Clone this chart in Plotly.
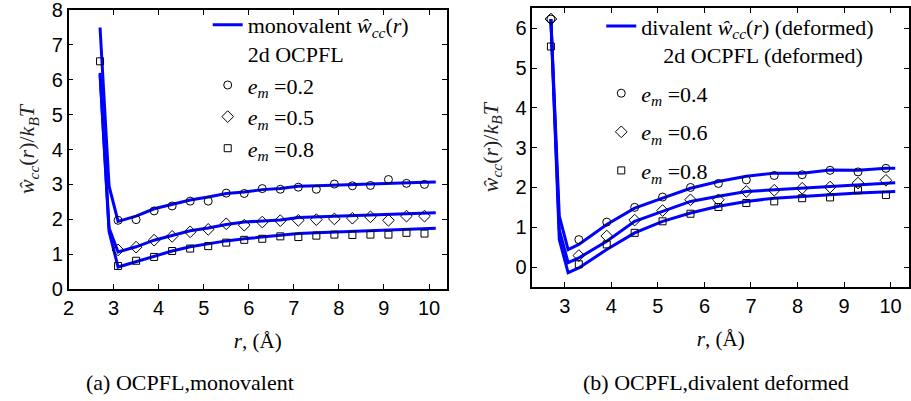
import plotly.graph_objects as go

# ---------------- data: (a) monovalent ----------------
a_line_x = [2.7, 2.9, 3.1, 3.5, 3.9, 4.3, 4.7, 5.1, 5.5, 5.9, 6.3, 6.7, 7.1, 7.5, 7.9, 8.3, 8.7, 9.1, 9.5, 9.9, 10.15]
a_line_02 = [7.5, 2.95, 1.94, 2.09, 2.30, 2.43, 2.55, 2.64, 2.74, 2.78, 2.85, 2.88, 2.95, 2.96, 2.98, 3.00, 3.01, 3.02, 3.05, 3.06, 3.07]
a_line_05 = [6.2, 1.75, 1.06, 1.21, 1.40, 1.54, 1.67, 1.75, 1.85, 1.92, 1.95, 1.98, 2.05, 2.07, 2.09, 2.11, 2.13, 2.15, 2.17, 2.18, 2.19]
a_line_08 = [6.15, 1.65, 0.63, 0.78, 0.95, 1.09, 1.21, 1.30, 1.38, 1.44, 1.49, 1.54, 1.59, 1.61, 1.63, 1.65, 1.67, 1.68, 1.70, 1.72, 1.74]

a_pts_x = [3.1, 3.5, 3.9, 4.3, 4.7, 5.1, 5.5, 5.9, 6.3, 6.7, 7.1, 7.5, 7.9, 8.3, 8.7, 9.1, 9.5, 9.9]
a_circ = [1.97, 1.99, 2.24, 2.38, 2.52, 2.52, 2.75, 2.74, 2.88, 2.86, 2.92, 2.86, 3.01, 2.96, 2.97, 3.14, 3.03, 3.00]
a_diam = [1.12, 1.20, 1.40, 1.51, 1.64, 1.71, 1.87, 1.83, 1.92, 1.96, 1.97, 1.99, 2.01, 2.03, 2.07, 1.97, 2.09, 2.09]
a_sq_x = [2.7] + a_pts_x
a_sq = [6.53, 0.66, 0.81, 0.92, 1.09, 1.16, 1.23, 1.33, 1.41, 1.44, 1.51, 1.49, 1.53, 1.56, 1.55, 1.56, 1.56, 1.61, 1.59]

# ---------------- data: (b) divalent deformed ----------------
b_line_x = [2.7, 2.88, 3.07, 3.3, 3.9, 4.5, 5.1, 5.7, 6.3, 6.9, 7.5, 8.1, 8.7, 9.3, 9.9, 10.1]
b_line_04 = [6.23, 1.28, 0.44, 0.57, 1.07, 1.48, 1.73, 1.98, 2.15, 2.28, 2.36, 2.36, 2.44, 2.43, 2.48, 2.48]
b_line_06 = [6.23, 0.94, 0.11, 0.23, 0.65, 1.15, 1.40, 1.65, 1.78, 1.90, 1.94, 1.98, 2.03, 2.07, 2.11, 2.12]
b_line_08 = [6.20, 0.69, -0.14, -0.02, 0.44, 0.86, 1.15, 1.36, 1.53, 1.65, 1.73, 1.78, 1.82, 1.86, 1.88, 1.90]

b_pts_x = [2.7, 3.3, 3.9, 4.5, 5.1, 5.7, 6.3, 6.9, 7.5, 8.1, 8.7, 9.3, 9.9]
b_circ = [6.23, 0.69, 1.13, 1.50, 1.76, 2.00, 2.10, 2.19, 2.30, 2.32, 2.43, 2.39, 2.48]
b_diam = [6.23, 0.29, 0.78, 1.18, 1.42, 1.69, 1.69, 1.90, 1.93, 1.98, 2.01, 2.11, 2.18]
b_sq = [5.54, 0.07, 0.57, 0.86, 1.15, 1.34, 1.51, 1.61, 1.65, 1.73, 1.75, 1.93, 1.81]

x_ticks_a = [2, 3, 4, 5, 6, 7, 8, 9, 10]
y_ticks_a = [0, 1, 2, 3, 4, 5, 6, 7, 8]
x_ticks_b = [3, 4, 5, 6, 7, 8, 9, 10]
y_ticks_b = [0, 1, 2, 3, 4, 5, 6]

BLUE = "rgb(0,0,255)"
SERIF = "Liberation Serif"
SANS = "Liberation Sans"
W = "<i>ŵ</i><sub><i>cc</i></sub>(<i>r</i>)"
EM = "<i>e</i><sub><i>m</i></sub> ="

fig = go.Figure()

def add_lines(xs, ys_list, xa, ya, name, leg):
    for i, ys in enumerate(ys_list):
        fig.add_trace(go.Scatter(
            x=xs, y=ys, mode="lines", xaxis=xa, yaxis=ya,
            line=dict(color=BLUE, width=3),
            name=name, showlegend=(i == 0), legend=leg, legendgroup="g0"))

def add_marks(xs, ys, sym, size, name, xa, ya, leg, grp):
    fig.add_trace(go.Scatter(
        x=xs, y=ys, mode="markers", xaxis=xa, yaxis=ya,
        marker=dict(symbol=sym, size=size, color="black", line=dict(color="black", width=1)),
        name=name, legend=leg, legendgroup=grp))

add_lines(a_line_x, [a_line_02, a_line_05, a_line_08], "x", "y",
          "monovalent " + W + "<br>2d OCPFL", "legend")
add_marks(a_pts_x, a_circ, "circle-open", 8, EM + "0.2", "x", "y", "legend", "g1")
add_marks(a_pts_x, a_diam, "diamond-open", 9, EM + "0.5", "x", "y", "legend", "g2")
add_marks(a_sq_x, a_sq, "square-open", 7, EM + "0.8", "x", "y", "legend", "g3")

add_lines(b_line_x, [b_line_04, b_line_06, b_line_08], "x2", "y2",
          "divalent " + W + " (deformed)<br>&nbsp;&nbsp;&nbsp;&nbsp;2d OCPFL (deformed)", "legend2")
add_marks(b_pts_x, b_circ, "circle-open", 8, EM + "0.4", "x2", "y2", "legend2", "g1")
add_marks(b_pts_x, b_diam, "diamond-open", 9, EM + "0.6", "x2", "y2", "legend2", "g2")
add_marks(b_pts_x, b_sq, "square-open", 7, EM + "0.8", "x2", "y2", "legend2", "g3")

axis_common = dict(showline=True, linecolor="black", linewidth=1.5, mirror="ticks",
                   ticks="inside", ticklen=5, tickcolor="black", tickwidth=1,
                   showgrid=False, zeroline=False, automargin=False,
                   ticklabeloverflow="allow",
                   tickfont=dict(family=SANS, size=20, color="black"))

ytitle = dict(text="<i>ŵ</i><sub><i>cc</i></sub>(<i>r</i>)/<i>k</i><sub><i>B</i></sub><i>T</i>",
              font=dict(family=SERIF, size=22, color="#222"), standoff=11)
xtitle = dict(text="<i>r</i>, (Å)", font=dict(family=SERIF, size=21, color="black"), standoff=16)

fig.update_layout(
    width=911, height=401, autosize=False,
    margin=dict(l=0, r=0, t=0, b=0, autoexpand=False),
    paper_bgcolor="white", plot_bgcolor="white",
    xaxis=dict(domain=[0.0752, 0.4907], range=[2, 10.4], tickvals=x_ticks_a, title=xtitle, **axis_common),
    yaxis=dict(domain=[0.2793, 0.975], range=[0, 8.001], tickvals=y_ticks_a, title=ytitle, **axis_common),
    xaxis2=dict(domain=[0.5843, 0.998], range=[2.3, 10.4], tickvals=x_ticks_b, anchor="y2", title=xtitle, **axis_common),
    yaxis2=dict(domain=[0.2843, 0.9793], range=[-0.5, 6.5], tickvals=y_ticks_b, anchor="x2", title=ytitle, **axis_common),
    legend=dict(x=0.228, y=0.99, xanchor="left", yanchor="top", bgcolor="rgba(255,255,255,0)",
                font=dict(family=SERIF, size=22, color="black"), valign="top",
                tracegroupgap=0),
    legend2=dict(x=0.66, y=0.987, xanchor="left", yanchor="top", bgcolor="rgba(255,255,255,0)",
                 font=dict(family=SERIF, size=22, color="black"), valign="top",
                 tracegroupgap=7),
    annotations=[
        dict(text="(a) OCPFL,monovalent", x=0.2086, y=0.047, xref="paper", yref="paper",
             xanchor="center", yanchor="middle",
             showarrow=False, font=dict(family=SERIF, size=22, color="black")),
        dict(text="(b) OCPFL,divalent deformed", x=0.786, y=0.047, xref="paper", yref="paper",
             xanchor="center", yanchor="middle",
             showarrow=False, font=dict(family=SERIF, size=22, color="black")),
    ],
)

fig.write_html("out.html")
